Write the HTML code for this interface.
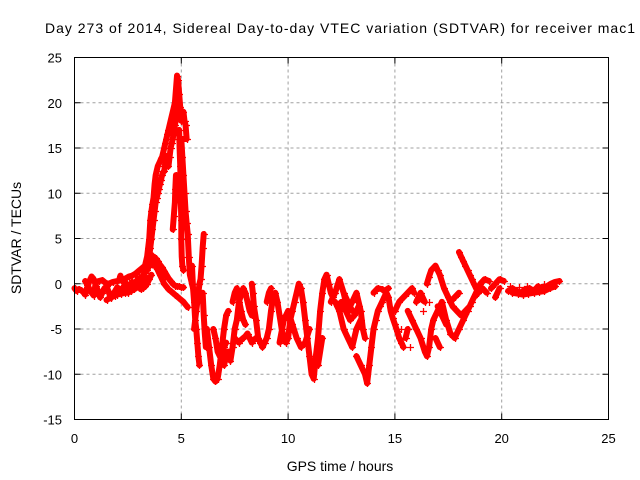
<!DOCTYPE html>
<html><head><meta charset="utf-8"><style>
body{margin:0;background:#fff}
svg{display:block;font-family:"Liberation Sans",sans-serif}
</style></head><body>
<svg id="chart" width="640" height="480">
<rect x="0" y="0" width="640" height="480" fill="#fff"/>
<g id="grid"></g>
<g id="marks"></g>
<rect x="74.5" y="57.5" width="534" height="362" fill="none" stroke="#000"/>
<g id="ticks"></g>
<text x="340" y="33" font-size="14" text-anchor="middle" textLength="590">Day 273 of 2014, Sidereal Day-to-day VTEC variation (SDTVAR) for receiver mac1</text>
<text x="340" y="471" font-size="14" text-anchor="middle">GPS time / hours</text>
<text transform="translate(21,238) rotate(-90)" font-size="14" text-anchor="middle">SDTVAR / TECUs</text>
</svg>
<script>
const xTicks=[0,5,10,15,20,25];
const yTicks=[-15,-10,-5,0,5,10,15,20,25];
const traceBaseline=[[0,-0.5],[0.1,-0.8],[0.2,-0.6],[0.3,-0.7],[0.4,-0.9],[0.5,-1.2],[0.6,-0.4],[0.7,0.3],[0.8,0.8],[0.9,0.5],[1.0,-0.2],[1.1,-0.8],[1.2,-1.5],[1.3,-1.0],[1.4,-0.5],[1.5,-0.3],[1.6,-0.9],[1.7,-1.6],[1.8,-1.2],[1.9,-0.8],[2.0,-0.4],[2.1,-0.6],[2.2,-1.0],[2.3,-0.3],[2.4,0.1],[2.5,-0.5],[2.6,-0.2],[2.7,0.2],[2.8,-0.1],[2.9,0.3],[3.0,0.6],[3.1,0.4],[3.2,0.9],[3.3,1.2],[3.4,1.5],[3.5,2.0],[3.6,2.4],[3.7,2.0],[3.8,2.6]];
const traceBaseline2=[[0.5,0.3],[0.6,-0.1],[0.7,-0.6],[0.8,-1.0],[0.9,-1.3],[1.0,0.2],[1.15,0.3],[1.3,0.4],[1.45,0.1],[1.6,0.0],[1.8,0.2],[2.0,0.3],[2.2,0.4],[2.4,0.6],[2.55,0.8],[2.7,0.9],[2.85,1.1],[3.0,1.4],[3.15,1.7],[3.3,2.0],[3.4,2.5],[3.5,3.0],[3.6,3.2],[1.5,-1.8],[1.7,-1.5],[1.9,-1.3],[2.0,-1.2],[2.2,-1.1],[2.35,-1.0],[2.5,-1.0],[2.65,-0.8],[2.8,-0.6],[3.0,-0.3],[3.1,-0.1],[3.2,0.1],[3.3,0.3],[3.4,0.6],[2.1,0.5],[2.15,0.9]];
const traceRise=[[3.3,2],[3.4,3],[3.45,4],[3.5,5],[3.55,7],[3.6,8],[3.65,8.8],[3.7,9.5],[3.75,11],[3.8,12],[3.85,12.5],[3.9,13],[4.0,13.5],[4.05,13.8],[4.1,14],[4.15,14.5],[4.2,15],[4.25,15.5],[4.3,16],[4.35,16.5],[4.4,17],[4.45,17.5],[4.5,18],[4.55,18.5],[4.6,19],[4.65,19.5],[4.7,20],[4.75,21.5],[4.8,23],[4.85,22.5],[4.9,21],[4.95,19.5],[5.0,18]];
const traceRise2=[[3.5,3],[3.55,4],[3.6,5],[3.65,6],[3.7,7],[3.75,8],[3.8,9],[3.85,9.5],[3.9,10],[3.95,10.5],[4.0,11],[4.05,11.5],[4.1,12],[4.15,12.3],[4.2,12.5],[4.25,13.2],[4.3,14],[4.35,13.5],[4.4,13],[4.45,14],[4.5,15],[4.55,15.5],[4.6,16],[4.65,16.8],[4.7,17.5],[4.75,18.2],[4.8,19],[4.85,20],[4.6,6],[4.65,7.5],[4.7,9],[4.72,10.5],[4.75,12]];
const traceFall=[[5.0,18.5],[5.05,18.8],[5.1,19],[5.15,18],[5.2,17.5],[5.25,16],[5.0,16],[5.05,14],[5.1,12],[5.15,10],[5.2,8],[5.25,6.7],[5.3,5.5],[5.35,3],[5.4,1],[5.5,0],[5.6,-1],[4.9,17],[4.92,15],[4.95,13],[4.97,11],[4.98,9],[5.0,7],[5.0,5],[5.02,3],[5.05,2],[5.1,1.5]];
const traceDiag=[[3.8,2.0],[3.9,1.5],[4.0,1.0],[4.1,0.5],[4.2,0],[4.3,-0.3],[4.4,-0.6],[4.5,-0.8],[4.6,-1.0],[4.7,-1.2],[4.8,-1.4],[4.9,-1.6],[5.0,-1.8],[5.1,-2],[5.2,-2.3],[5.3,-2.6],[3.7,3],[3.8,2.8],[3.9,2.5],[4.0,2.1],[4.1,1.8],[4.2,1.4],[4.3,1.0],[4.4,0.6],[4.5,0.3],[4.6,0],[4.7,-0.2],[4.8,-0.3],[4.9,-0.3],[5.0,-0.4],[5.1,-0.4],[3.6,1],[3.5,0.5],[3.4,0],[3.3,-0.3],[3.2,-0.5],[3.1,-0.6]];
const traceDrop=[[5.5,2],[5.55,-0.5],[5.6,-2],[5.65,-4],[5.7,-5],[5.75,-6.5],[5.8,-8],[5.85,-9],[5.6,-5],[5.65,-4],[5.7,-3],[5.75,-2],[5.8,-1],[5.85,0],[5.9,0.5],[5.95,2],[6.0,4],[6.05,5.5],[6.0,-1],[6.05,-3.5],[6.1,-5.5],[6.15,-7]];
const traceMid=[[6.2,-5],[6.3,-7],[6.4,-9],[6.5,-10.5],[6.6,-10.8],[6.7,-10.5],[6.8,-9],[6.9,-7],[7.0,-5],[7.1,-3.5],[7.2,-3],[7.0,-9],[7.1,-8],[7.2,-7.5],[7.3,-8.5],[7.4,-7],[7.5,-5],[7.6,-4],[7.7,-2],[7.8,-1.2],[7.9,-0.5],[8.0,-1],[8.1,-2],[8.2,-3],[8.3,-3.5],[8.3,0],[8.35,-1],[8.4,-2.5],[8.5,-4],[8.6,-6],[8.7,-6.5],[8.8,-7],[8.9,-6.5],[9.0,-6],[9.1,-5],[9.2,-3],[9.3,-1.5],[9.4,-1],[9.5,-2],[9.6,-3.5],[9.7,-5],[9.8,-6],[9.9,-6.5],[10.0,-6],[10.1,-4],[10.2,-3],[10.3,-2],[10.4,-1],[10.5,0],[10.6,-0.5],[10.7,-2],[10.8,-4],[10.9,-6],[11.0,-8],[11.1,-10],[11.2,-10.5],[11.3,-8],[11.4,-6],[11.5,-3],[11.6,-1],[11.7,0.5],[11.8,1],[11.9,0],[12.0,-1],[12.1,-1.5]];
const traceMid2=[[6.5,-5],[6.6,-6],[6.7,-7.5],[6.8,-8],[6.9,-8],[7.0,-7],[7.1,-6.5],[7.5,-6],[7.6,-6.3],[7.7,-6.5],[7.8,-6.2],[7.9,-6],[8.0,-5.8],[8.1,-5.5],[8.2,-6],[8.3,-6.5],[8.4,-6.2],[8.5,-6],[9.6,-6.5],[9.8,-4],[10.0,-3],[10.2,-4.5],[10.4,-6],[10.6,-7],[10.8,-6.5],[11.0,-5],[11.4,-9],[11.6,-6],[7.4,-2],[7.5,-1],[7.6,-0.5],[7.8,-3],[7.9,-4],[8.0,-4.5],[9.0,-2],[9.1,-1],[9.2,-0.5]];
const traceLate=[[12.2,-2],[12.4,-3],[12.6,-5],[12.8,-6],[13.0,-7],[13.2,-5],[13.4,-4],[13.0,-3],[12.8,-2],[12.6,-1],[13.2,-8],[13.4,-9],[13.6,-10],[13.7,-11],[13.8,-9],[13.9,-7],[14.0,-5],[14.1,-4],[14.2,-3],[14.3,-2.5],[14.4,-2],[14.5,-1.5],[14.6,-1],[14.7,-1.5],[14.8,-3],[14.9,-3.8],[15.0,-4.5],[15.1,-5.2],[15.2,-6],[15.3,-6.5],[15.4,-7],[12.0,-2],[12.2,-1],[12.4,0.5],[12.6,-1],[12.8,-3],[13.0,-2],[13.2,-1],[13.4,-3],[13.5,-5],[13.6,-6],[14.0,-1],[14.2,-0.5],[14.4,-0.6],[14.5,-0.8],[14.7,-0.5],[12.3,-2.5],[12.5,-2],[12.7,-3],[12.9,-4],[13.1,-3.5],[13.3,-2.5]];
const traceEvening=[[15.0,-3],[15.2,-2],[15.4,-1.5],[15.6,-1],[15.8,-0.5],[15.9,-1],[15.6,-3],[15.8,-4],[16.0,-5],[16.2,-6],[16.4,-7.5],[16.5,-8],[16.6,-7],[16.7,-5],[16.8,-4],[17.0,-3],[17.2,-2],[17.4,-4],[17.6,-5.5],[17.8,-6],[18.0,-5],[18.2,-4],[18.4,-3],[18.6,-2],[18.8,-1],[19.0,0],[19.2,0.5],[19.4,0.3],[16.5,0],[16.6,0.8],[16.7,1.5],[16.9,2],[17.0,1.5],[17.1,1],[17.3,-0.5],[17.5,-1.5],[17.7,-2.5],[17.9,-3],[18.1,-3.5],[18.3,-3],[18.5,-2.5],[18.7,-1.5],[18.9,-1],[19.1,-0.5],[19.3,-1],[17.0,-2.5],[17.2,-3.5],[17.4,-4.5],[18.0,3.5],[18.1,3],[18.2,2.5],[18.3,2],[18.4,1.5],[18.5,1],[18.6,0.5],[18.7,0],[18.8,-0.5],[16.0,-2],[16.2,-1],[16.4,-2],[16.1,-1.5],[15.5,-6],[15.6,-5],[16.3,-3],[16.6,-2],[17.6,-2],[17.8,-1.5],[18.0,-1],[19.5,-0.5],[19.7,0],[19.9,0.5],[20.1,0.3],[19.7,-1.5],[19.9,-0.5],[15.3,-5],[15.7,-7],[16.9,-6],[17.1,-7]];
const traceNight=[[20.3,-0.8],[20.5,-0.5],[20.7,-0.8],[20.9,-1],[21.1,-0.6],[21.3,-0.5],[21.5,-0.8],[21.7,-0.3],[21.9,-0.5],[22.1,-0.3],[22.3,0],[22.5,0.2],[22.7,0.3],[20.5,-1],[20.75,-1.1],[21.0,-1.2],[21.25,-1.1],[21.5,-1],[21.75,-0.9],[22.0,-0.8],[22.25,-0.5],[22.5,-0.3],[20.4,-0.2],[20.8,-0.4],[21.2,-0.2],[21.6,-0.4],[22.0,0],[22.4,-0.2]];
const traces=[traceBaseline,traceBaseline2,traceRise,traceRise2,traceFall,traceDiag,traceDrop,traceMid,traceMid2,traceLate,traceEvening,traceNight];

const X0=74.5,X1=608.5,Y0=419.5,Y1=57.5;
const xs=v=>X0+(v-0)/(25-0)*(X1-X0);
const ys=v=>Y0-(v+15)/(25+15)*(Y0-Y1);
const NS="http://www.w3.org/2000/svg";
const grid=document.getElementById('grid'),ticks=document.getElementById('ticks'),marks=document.getElementById('marks');
function mk(tag,attrs,parent){const e=document.createElementNS(NS,tag);for(const k in attrs)e.setAttribute(k,attrs[k]);parent.appendChild(e);return e;}
xTicks.forEach(t=>{
  const x=xs(t);
  if(t>0&&t<25){const g=mk('line',{x1:x,x2:x,y1:Y1,y2:Y0,stroke:'#a0a0a0','stroke-dasharray':'3,3'},grid);
  
  }
  const tk=mk('path',{d:`M${x},${Y0}v-6M${x},${Y1}v6`,stroke:'#000'},ticks);
  
  
  const l=mk('text',{x:x,y:443,'font-size':13,'text-anchor':'middle'},ticks);l.textContent=t;
  
  
});
yTicks.forEach(t=>{
  const y=ys(t);
  if(t>-15&&t<25){const g=mk('line',{x1:X0,x2:X1,y1:y,y2:y,stroke:'#a0a0a0','stroke-dasharray':'3,3'},grid);
  
  }
  const tk=mk('path',{d:`M${X0},${y}h6M${X1},${y}h-6`,stroke:'#000'},ticks);
  
  
  const l=mk('text',{x:62,y:y+5,'font-size':13,'text-anchor':'end'},ticks);l.textContent=t;
  
  
});
// dense band connecting consecutive nearby samples of each trace
let band='';
traces.forEach(tr=>{for(let i=1;i<tr.length;i++){const a=tr[i-1],b=tr[i];
  if(Math.abs(b[0]-a[0])<=0.3&&Math.abs(b[1]-a[1])<=3.2){band+=`M${xs(a[0])},${ys(a[1])}L${xs(b[0])},${ys(b[1])}`;}}});
const bandEl=mk('path',{d:band,stroke:'#ff0000','stroke-width':6,'stroke-linecap':'round',fill:'none'},marks);


let d='';
traces.forEach(tr=>tr.forEach(p=>{const x=Math.round(xs(p[0]))+0.5,y=Math.round(ys(p[1]))+0.5;d+=`M${x-3.5},${y}h7M${x},${y-3.5}v7`;}));
const pts=mk('path',{d:d,stroke:'#ff0000','stroke-width':1.3,fill:'none'},marks);


</script>
</body></html>
